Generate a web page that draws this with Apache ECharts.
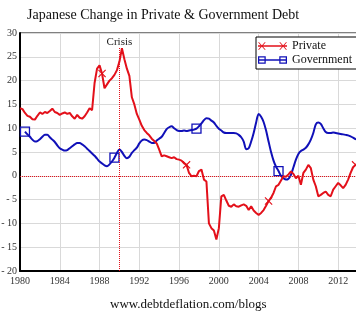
<!DOCTYPE html>
<html>
<head>
<meta charset="utf-8">
<script src="https://cdn.jsdelivr.net/npm/echarts@6/dist/echarts.min.js"></script>
<style>
  html, body { margin: 0; padding: 0; background: #fff; }
  #chart { width: 356px; height: 324px; }
</style>
</head>
<body>
<div id="chart"></div>
<script>
// Quarterly series, annual % change in debt
const privateStart = 1980.0;
const governmentStart = 1980.5;
const quarter = 0.25;

const privateDebt = [
  14.2, 14.0, 13.2, 12.6,   // 1980
  12.4, 11.9, 11.8, 12.6,   // 1981
  13.3, 13.0, 13.4, 13.2,   // 1982
  13.6, 14.1, 13.4, 13.2,   // 1983
  12.8, 13.1, 13.3, 13.0,   // 1984
  13.2, 12.5, 12.0, 12.8,   // 1985
  12.2, 12.0, 12.5, 13.3,   // 1986
  14.2, 13.8, 19.5, 22.5,   // 1987
  23.2, 21.5, 18.4, 19.2,   // 1988
  20.0, 20.5, 21.2, 22.2,   // 1989
  24.0, 26.8, 24.5, 22.5,   // 1990
  21.0, 16.5, 15.0, 13.0,   // 1991
  11.8, 10.5, 9.6, 9.0,     // 1992
  8.5, 7.8, 7.3, 6.8,       // 1993
  5.5, 4.1, 4.3, 4.1,       // 1994
  3.9, 3.7, 3.9, 3.5,       // 1995
  3.4, 3.2, 2.6, 2.3,       // 1996
  0.6, -0.1, 0.0, -0.1,     // 1997
  1.0, 1.3, -0.8, -1.2,     // 1998
  -10.0, -11.0, -11.5, -13.4, // 1999
  -11.0, -4.3, -4.0, -5.2,  // 2000
  -6.3, -6.5, -6.0, -6.4,   // 2001
  -6.5, -6.2, -6.0, -6.3,   // 2002
  -7.2, -6.4, -7.3, -7.8,   // 2003
  -8.2, -7.8, -7.2, -6.3,   // 2004
  -5.3, -4.6, -3.6, -2.2,   // 2005
  -1.9, -1.0, -0.1, -0.2,   // 2006
  0.3, 0.9, 0.4, -0.5,      // 2007
  0.0, -1.9, 0.6, 1.3,      // 2008
  2.3, 1.6, -0.8, -2.2,     // 2009
  -4.3, -4.0, -3.6, -3.3,   // 2010
  -4.0, -4.3, -2.9, -2.2,   // 2011
  -1.5, -2.0, -2.6, -1.9,   // 2012
  -0.8, 0.6, 1.8, 2.3,      // 2013
  2.5                       // 2014
];

const governmentDebt = [
  9.3, 8.7,                 // 1980 H2
  8.2, 7.6, 7.2, 7.3,       // 1981
  7.7, 8.2, 8.6, 8.6,       // 1982
  8.1, 7.6, 7.1, 6.4,       // 1983
  5.8, 5.5, 5.3, 5.4,       // 1984
  5.8, 6.2, 6.6, 6.9,       // 1985
  6.9, 6.6, 6.2, 5.7,       // 1986
  5.2, 4.7, 4.2, 3.6,       // 1987
  3.0, 2.6, 2.2, 2.0,       // 1988
  2.4, 3.0, 3.8, 4.8,       // 1989
  5.5, 5.0, 4.2, 3.7,       // 1990
  4.0, 4.8, 5.4, 5.9,       // 1991
  6.8, 7.4, 7.6, 7.5,       // 1992
  7.2, 6.9, 6.9, 7.4,       // 1993
  7.8, 8.2, 9.0, 9.8,       // 1994
  10.2, 10.4, 10.0, 9.6,    // 1995
  9.4, 9.4, 9.5, 9.4,       // 1996
  9.5, 9.6, 9.7, 9.9,       // 1997
  10.4, 11.0, 11.7, 12.1,   // 1998
  12.0, 11.6, 11.2, 10.5,   // 1999
  9.9, 9.5, 9.1, 9.0,       // 2000
  9.0, 9.0, 9.0, 8.9,       // 2001
  8.6, 8.1, 7.2, 5.6,       // 2002
  5.8, 7.2, 9.0, 11.2,      // 2003
  13.0, 12.4, 11.3, 9.5,    // 2004
  7.2, 5.0, 3.2, 1.9,       // 2005
  1.0, 0.0, -0.5, -0.8,     // 2006
  -0.6, 0.2, 1.8, 3.4,      // 2007
  4.6, 5.2, 5.5, 5.9,       // 2008
  6.6, 7.6, 9.0, 10.8,      // 2009
  11.2, 10.9, 10.0, 9.2,    // 2010
  9.0, 9.0, 9.1, 9.0,       // 2011
  8.9, 8.8, 8.7, 8.6,       // 2012
  8.5, 8.3, 8.0, 7.7,       // 2013
  7.6                       // 2014
];

// Which quarters carry a series marker
const privateMarkerIdx = [33, 67, 100, 135];
const governmentMarkerIdx = [0, 36, 69, 102];

const crisisYear = 1990;
const crisisLabel = 'Crisis';

const serif = "'Liberation Serif', 'DejaVu Serif', 'Times New Roman', serif";
const red = '#e3101a';
const blue = '#1010b8';

const crossPath = 'path://M0,1L1,0L5,4L9,0L10,1L6,5L10,9L9,10L5,6L1,10L0,9L4,5Z';

// Legend glyphs: a line with a marker near each end
const privateIcon = 'path://M0,4.3L30,4.3L30,5.7L0,5.7Z' +
  'M0,1L1.1,1L8,9L6.9,9Z M6.9,1L8,1L1.1,9L0,9Z' +
  'M22,1L23.1,1L30,9L28.9,9Z M28.9,1L30,1L23.1,9L22,9Z';
const governmentIcon = 'path://M0,4.3L30,4.3L30,5.7L0,5.7Z' +
  'M0,1L8,1L8,9L0,9Z M1.3,2.3L1.3,7.7L6.7,7.7L6.7,2.3Z' +
  'M22,1L30,1L30,9L22,9Z M23.3,2.3L23.3,7.7L28.7,7.7L28.7,2.3Z';

function buildSeries(values, start, markers, markerItem) {
  return values.map(function (v, i) {
    const item = { value: [start + i * quarter, v] };
    if (markers.indexOf(i) >= 0) {
      Object.assign(item, markerItem);
    } else {
      item.symbol = 'none';
    }
    return item;
  });
}

const chart = echarts.init(document.getElementById('chart'), null, { renderer: 'canvas' });

chart.setOption({
  animation: false,
  backgroundColor: '#fff',
  title: [
    {
      text: 'Japanese Change in Private & Government Debt',
      left: 27, top: 8, padding: 0,
      textStyle: { fontFamily: serif, fontSize: 14, fontWeight: 'normal', color: '#111' }
    },
    {
      text: 'www.debtdeflation.com/blogs',
      left: 110, top: 298, padding: 0,
      textStyle: { fontFamily: serif, fontSize: 13, fontWeight: 'normal', color: '#111' }
    }
  ],
  legend: {
    orient: 'vertical',
    left: 256, top: 37,
    padding: [3, 20, 3, 2],
    itemWidth: 29, itemHeight: 8, itemGap: 2,
    backgroundColor: '#fff',
    borderColor: '#000', borderWidth: 1,
    itemStyle: { borderWidth: 0 },
    textStyle: { fontFamily: serif, fontSize: 12, color: '#111' },
    data: [
      { name: 'Private', icon: privateIcon },
      { name: 'Government', icon: governmentIcon }
    ]
  },
  grid: {
    left: 20, width: 348, top: 33, height: 238,
    outerBoundsMode: 'none',
    containLabel: false,
    show: true, borderColor: '#000', borderWidth: 1, backgroundColor: '#fff'
  },
  xAxis: {
    type: 'value',
    min: 1980, max: 2015, interval: 4,
    axisLine: { show: true, onZero: false, lineStyle: { color: '#000', width: 2 } },
    axisTick: { show: false },
    splitLine: { show: true, lineStyle: { color: '#d9d9d9', width: 1 } },
    axisLabel: {
      margin: 5,
      fontFamily: serif, fontSize: 10, color: '#333',
      formatter: function (v) { return v % 4 === 0 ? String(v) : ''; }
    }
  },
  yAxis: {
    type: 'value',
    min: -20, max: 30, interval: 5,
    axisLine: { show: true, lineStyle: { color: '#000', width: 2 } },
    axisTick: { show: false },
    splitLine: { show: true, lineStyle: { color: '#d9d9d9', width: 1 } },
    axisLabel: {
      margin: 3,
      fontFamily: serif, fontSize: 10, color: '#333',
      formatter: function (v) { return v < 0 ? '- ' + Math.abs(v) : String(v); }
    }
  },
  series: [
    {
      name: 'Private',
      type: 'line',
      symbol: 'none',
      showSymbol: true,
      showAllSymbol: true,
      color: red,
      lineStyle: { color: red, width: 2 },
      data: buildSeries(privateDebt, privateStart, privateMarkerIdx, {
        symbol: crossPath, symbolSize: 8,
        itemStyle: { color: red, borderWidth: 0 }
      }),
      markLine: {
        silent: true,
        symbol: 'none',
        label: { show: false },
        lineStyle: { type: 'dotted', color: red, width: 1 },
        data: [{ yAxis: 0 }]
      },
      z: 3
    },
    {
      name: 'Government',
      type: 'line',
      symbol: 'none',
      showSymbol: true,
      showAllSymbol: true,
      smooth: 0.3,
      color: blue,
      lineStyle: { color: blue, width: 2 },
      data: buildSeries(governmentDebt, governmentStart, governmentMarkerIdx, {
        symbol: 'rect', symbolSize: 9,
        itemStyle: { color: 'rgba(255,255,255,0)', borderColor: blue, borderWidth: 1.3 }
      }),
      markLine: {
        silent: true,
        symbol: 'none',
        lineStyle: { type: 'dotted', color: red, width: 1 },
        label: {
          show: true, position: 'end', distance: 0,
          formatter: crisisLabel,
          fontFamily: serif, fontSize: 11, color: '#222'
        },
        data: [[{ coord: [crisisYear, -20] }, { coord: [crisisYear, 27] }]]
      },
      z: 2
    }
  ]
});
</script>
</body>
</html>
